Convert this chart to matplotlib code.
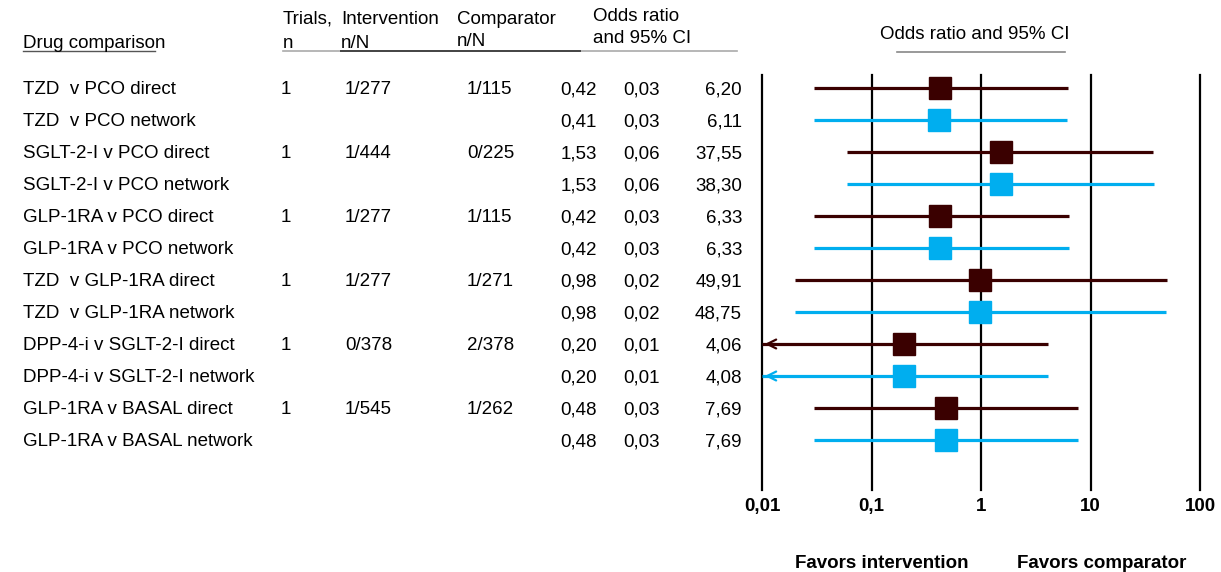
import numpy as np
import matplotlib.pyplot as plt
import matplotlib as mpl
from matplotlib.lines import Line2D
from matplotlib import transforms

mpl.rcParams['font.family'] = ['Liberation Sans', 'DejaVu Sans']
mpl.rcParams['font.size'] = 13.5

# Данные
comparisons = ["TZD  v PCO direct", "TZD  v PCO network",
               "SGLT-2-I v PCO direct", "SGLT-2-I v PCO network",
               "GLP-1RA v PCO direct", "GLP-1RA v PCO network",
               "TZD  v GLP-1RA direct", "TZD  v GLP-1RA network",
               "DPP-4-i v SGLT-2-I direct", "DPP-4-i v SGLT-2-I network",
               "GLP-1RA v BASAL direct", "GLP-1RA v BASAL network"]
trials = ["1", "", "1", "", "1", "", "1", "", "1", "", "1", ""]
interv = ["1/277", "", "1/444", "", "1/277", "", "1/277", "", "0/378", "", "1/545", ""]
compar = ["1/115", "", "0/225", "", "1/115", "", "1/271", "", "2/378", "", "1/262", ""]
odds = [0.42, 0.41, 1.53, 1.53, 0.42, 0.42, 0.98, 0.98, 0.20, 0.20, 0.48, 0.48]
lci = [0.03, 0.03, 0.06, 0.06, 0.03, 0.03, 0.02, 0.02, 0.01, 0.01, 0.03, 0.03]
uci = [6.20, 6.11, 37.55, 38.30, 6.33, 6.33, 49.91, 48.75, 4.06, 4.08, 7.69, 7.69]
kind = ["direct", "network"] * 6
xticks = [0.01, 0.1, 1, 10, 100]
xticklabels = ["0,01", "0,1", "1", "10", "100"]

colors = {"direct": "#3a0000", "network": "#00aeef"}
fs = 13.5

W, H = 1221, 572
fig = plt.figure(figsize=(W / 100, H / 100), dpi=100)

def fx(px):
    return px / W

def fy(py):
    return 1 - py / H

# Ось для графика
top, bottom = 75, 490
ax = fig.add_axes([fx(762), fy(bottom), fx(1200) - fx(762), fy(top) - fy(bottom)])
ax.set_xscale('log')
ax.set_xlim(0.01, 100)
ax.set_ylim((bottom - 88) / 32, (top - 88) / 32)
for s in ax.spines.values():
    s.set_visible(False)
ax.set_yticks([])
ax.set_xticks(xticks)
ax.set_xticklabels(xticklabels, fontweight='bold', fontsize=fs)
ax.xaxis.set_minor_locator(mpl.ticker.NullLocator())
ax.tick_params(axis='x', length=0, pad=6)
for t in xticks:
    ax.axvline(t, color='k', lw=1.6, zorder=1, clip_on=False)

rows = np.arange(len(comparisons))
for i in rows:
    c = colors[kind[i]]
    lo = max(lci[i], 0.01)
    ax.plot([lo, uci[i]], [i, i], color=c, lw=2.3, zorder=2, solid_capstyle='butt')
    if lci[i] <= 0.01:
        # стрелка - интервал уходит за левую границу
        ax.annotate('', xy=(0.01, i), xytext=(0.014, i),
                    arrowprops=dict(arrowstyle='->', color=c, lw=1.6,
                                    mutation_scale=16), zorder=3)
    ax.plot(odds[i], i, 's', color=c, ms=16, zorder=4)

# Таблица слева (базовая линия текста чуть ниже центра строки)
tr = transforms.blended_transform_factory(fig.transFigure, ax.transData)
fmt = lambda v: f"{v:.2f}".replace('.', ',')
for i in rows:
    kw = dict(transform=tr, va='baseline', fontsize=fs)
    yb = i + 0.2
    ax.text(fx(23), yb, comparisons[i], ha='left', **kw)
    ax.text(fx(281), yb, trials[i], ha='left', **kw)
    ax.text(fx(345), yb, interv[i], ha='left', **kw)
    ax.text(fx(467), yb, compar[i], ha='left', **kw)
    ax.text(fx(597), yb, fmt(odds[i]), ha='right', **kw)
    ax.text(fx(660), yb, fmt(lci[i]), ha='right', **kw)
    ax.text(fx(742), yb, fmt(uci[i]), ha='right', **kw)

# Заголовки
hd = dict(ha='left', va='baseline', fontsize=fs)
fig.text(fx(23), fy(48), "Drug comparison", **hd)
fig.text(fx(283), fy(24), "Trials,", **hd)
fig.text(fx(283), fy(48), "n", **hd)
fig.text(fx(341), fy(24), "Intervention", **hd)
fig.text(fx(341), fy(48), "n/N", **hd)
fig.text(fx(457), fy(24), "Comparator", **hd)
fig.text(fx(457), fy(46), "n/N", **hd)
fig.text(fx(593), fy(21), "Odds ratio", **hd)
fig.text(fx(593), fy(43), "and 95% CI", **hd)
fig.text(fx(975), fy(39), "Odds ratio and 95% CI", ha='center', va='baseline', fontsize=fs)

fig.add_artist(Line2D([fx(23), fx(155)], [fy(51), fy(51)], color='#555555', lw=1))
fig.add_artist(Line2D([fx(283), fx(737)], [fy(51), fy(51)], color='#aaaaaa', lw=1.2))
fig.add_artist(Line2D([fx(341), fx(580)], [fy(51), fy(51)], color='#444444', lw=1.4))
fig.add_artist(Line2D([fx(897), fx(1065)], [fy(52), fy(52)], color='#888888', lw=1.2))

fig.text(fx(882), fy(568), "Favors intervention", ha='center', va='baseline',
         fontsize=fs, fontweight='bold')
fig.text(fx(1102), fy(568), "Favors comparator", ha='center', va='baseline',
         fontsize=fs, fontweight='bold')

plt.savefig('out.png', dpi=100)
